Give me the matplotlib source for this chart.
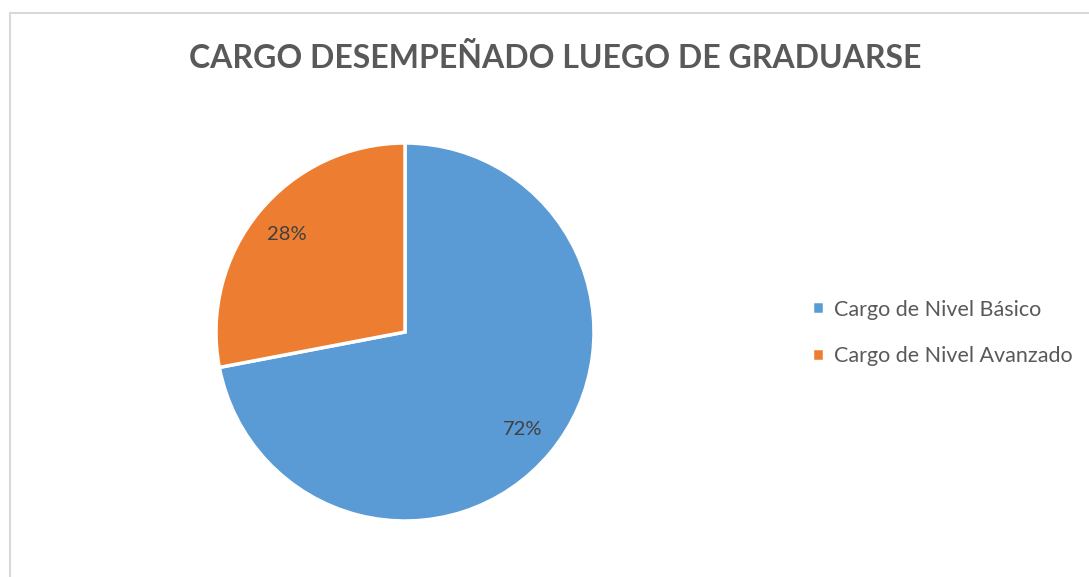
import matplotlib
matplotlib.use("Agg")
import matplotlib.pyplot as plt
from matplotlib.patches import Rectangle

categories = ["Cargo de Nivel Básico", "Cargo de Nivel Avanzado"]
values = [72, 28]
colors = ["#5B9BD5", "#ED7D31"]
title = "CARGO DESEMPEÑADO LUEGO DE GRADUARSE"

plt.rcParams['font.family'] = ['Lato', 'DejaVu Sans']

W, H = 1089, 577
fig = plt.figure(figsize=(W / 100, H / 100), dpi=100)

# chart border (left and top visible)
fig.patches.append(Rectangle((9.5 / W, -0.1), 1.2, (H - 12.5) / H + 0.1,
                             transform=fig.transFigure, fill=False,
                             edgecolor="#D9D9D9", linewidth=1.5))

cx, cy, r = 405, 332, 189
ax = fig.add_axes([(cx - r) / W, (H - cy - r) / H, 2 * r / W, 2 * r / H])
wedges, texts, autotexts = ax.pie(
    values, colors=colors, startangle=90, counterclock=False,
    autopct=lambda p: f"{p:.0f}%", pctdistance=0.81,
    wedgeprops=dict(edgecolor="white", linewidth=2.5),
    textprops=dict(color="#404040", fontsize=14.5), frame=False)
ax.set_xlim(-1, 1)
ax.set_ylim(-1, 1)
ax.set_aspect("equal")
ax.axis("off")

fig.text(555 / W, 1 - 58 / H, title, ha="center", va="center",
         fontsize=23, fontweight="bold", color="#595959")

leg = fig.legend(wedges, categories, loc="center left",
                 bbox_to_anchor=(793 / W, 1 - 333 / H), frameon=False,
                 fontsize=15.5, handlelength=0.55, handleheight=0.55,
                 handletextpad=0.45, labelspacing=1.25, labelcolor="#595959")

fig.savefig("out.png", dpi=100, facecolor="white")
